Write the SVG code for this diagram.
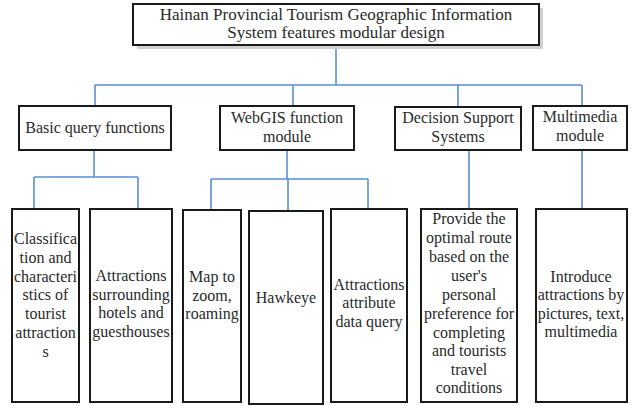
<svg xmlns="http://www.w3.org/2000/svg" width="632" height="406" viewBox="0 0 632 406">
<style>
.box{fill:#fff;stroke:#1a1a1a;stroke-width:2}
.sh{fill:#cfcfcf}
.t{font-family:"Liberation Serif","Times New Roman",serif;font-size:16px;fill:#2a2a2a;text-anchor:middle}
.big{font-size:17px}
.ln{stroke:#5a8fd8;stroke-width:1.6;fill:none}
</style>
<rect width="632" height="406" fill="#fff"/>
<g id="connectors">
<path class="ln" d="M336,45 V85 M95,85 H582 M95,85 V106 M293,85 V106 M458,85 V107 M582,85 V106"/>
<path class="ln" d="M94,150 V177 M34,177 H138 M34,177 V209 M138,177 V209"/>
<path class="ln" d="M287,150 V179 M211,179 H368 M211,179 V210 M288,179 V211 M368,179 V209"/>
<path class="ln" d="M469,150 V209 H480"/>
<path class="ln" d="M582,150 V209"/>
</g>
<g id="root">
<rect class="sh" x="137" y="8" width="406" height="41"/>
<rect class="box" x="133" y="4" width="406" height="41"/>
<text class="t big" x="336" y="20">Hainan Provincial Tourism Geographic Information</text>
<text class="t big" x="336" y="38">System features modular design</text>
</g>
<g id="basic">
<rect class="box" x="19" y="106" width="152" height="44"/>
<text class="t" x="95" y="133">Basic query functions</text>
</g>
<g id="webgis">
<rect class="box" x="220" y="106" width="134" height="44"/>
<text class="t" x="287" y="123">WebGIS function</text>
<text class="t" x="287" y="142">module</text>
</g>
<g id="decision">
<rect class="box" x="395" y="107" width="126" height="43"/>
<text class="t" x="458" y="123">Decision Support</text>
<text class="t" x="458" y="142">Systems</text>
</g>
<g id="multimedia">
<rect class="box" x="533" y="106" width="94" height="44"/>
<text class="t" x="580" y="122">Multimedia</text>
<text class="t" x="580" y="141">module</text>
</g>
<g id="classification">
<rect class="box" x="12" y="209" width="67" height="193"/>
<text class="t" x="45.5" y="244">Classifica</text>
<text class="t" x="45.5" y="263">tion and</text>
<text class="t" x="45.5" y="282">characteri</text>
<text class="t" x="45.5" y="300">stics of</text>
<text class="t" x="45.5" y="319">tourist</text>
<text class="t" x="45.5" y="338">attraction</text>
<text class="t" x="45.5" y="357">s</text>
</g>
<g id="hotels">
<rect class="box" x="90" y="209" width="82" height="193"/>
<text class="t" x="131" y="281">Attractions</text>
<text class="t" x="131" y="300">surrounding</text>
<text class="t" x="131" y="318">hotels and</text>
<text class="t" x="131" y="337">guesthouses</text>
</g>
<g id="map">
<rect class="box" x="183" y="210" width="58" height="192"/>
<text class="t" x="212" y="282">Map to</text>
<text class="t" x="212" y="301">zoom,</text>
<text class="t" x="212" y="319">roaming</text>
</g>
<g id="hawkeye">
<rect class="box" x="249" y="211" width="74" height="193"/>
<text class="t" x="286" y="303">Hawkeye</text>
</g>
<g id="attribute">
<rect class="box" x="331" y="209" width="76" height="193"/>
<text class="t" x="369" y="290">Attractions</text>
<text class="t" x="369" y="308">attribute</text>
<text class="t" x="369" y="327">data query</text>
</g>
<g id="route">
<rect class="box" x="421" y="209" width="96" height="193"/>
<text class="t" x="469" y="224">Provide the</text>
<text class="t" x="469" y="243">optimal route</text>
<text class="t" x="469" y="262">based on the</text>
<text class="t" x="469" y="281">user's</text>
<text class="t" x="469" y="300">personal</text>
<text class="t" x="469" y="319">preference for</text>
<text class="t" x="469" y="338">completing</text>
<text class="t" x="469" y="356">and tourists</text>
<text class="t" x="469" y="375">travel</text>
<text class="t" x="469" y="393">conditions</text>
</g>
<g id="intro">
<rect class="box" x="536" y="209" width="91" height="193"/>
<text class="t" x="581" y="282">Introduce</text>
<text class="t" x="581" y="300">attractions by</text>
<text class="t" x="581" y="319">pictures, text,</text>
<text class="t" x="581" y="337">multimedia</text>
</g>
</svg>
